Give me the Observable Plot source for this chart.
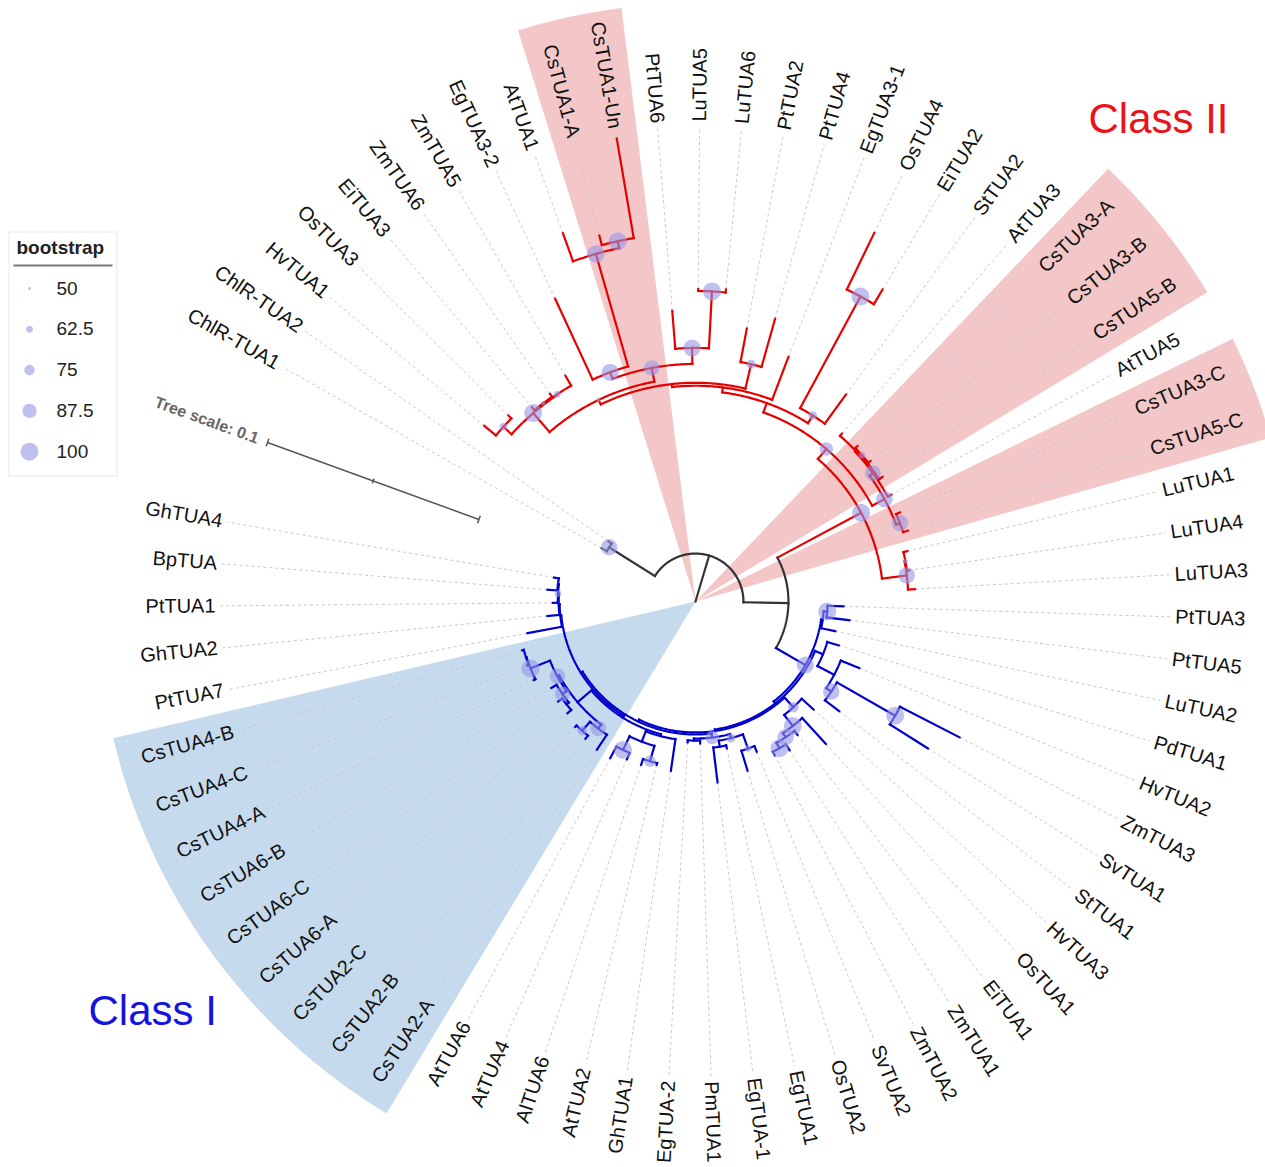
<!DOCTYPE html>
<html><head><meta charset="utf-8">
<script src="https://cdn.jsdelivr.net/npm/d3@7"></script>
<script src="https://cdn.jsdelivr.net/npm/@observablehq/plot@0.6"></script>
<style>body{margin:0;background:#fff} #chart svg{display:block}</style>
</head><body><div id="chart"></div>
<script>
// ---------- DATA ----------
// Tree (Newick, branch lengths in substitutions/site), leaves in clockwise order
const newick = `(
(ChlR-TUA1:0.0027,ChlR-TUA2:0.0018)ChlR:0.0240,
(((((((((HvTUA1:0.0067,OsTUA3:0.0018)HO:0.0049,((EiTUA3:0.0016,ZmTUA6:0.0016)EZ:0.0004,ZmTUA5:0.0051)M2:0.0002)M1:0.0111,
((EgTUA3-2:0.0396,(AtTUA1:0.0133,(CsTUA1-A:0.0044,CsTUA1-Un:0.0449)CS:0.0031)CC:0.0520)K:0.0031,(PtTUA6:0.0169,(LuTUA5:0.0009,LuTUA6:0.0013)LL2:0.0253)PL:0.0071)J:0.0062
)G:0.0022,(PtTUA2:0.0151,PtTUA4:0.0222)PP2:0.0111)F:0.0013,EgTUA3-1:0.0204)La:0.0022,
((OsTUA4:0.0280,EiTUA2:0.0076)OE:0.0564,StTUA2:0.0160)N1:0.0040)L:0.0044,
(((AtTUA3:0.0013,((CsTUA3-A:0.0013,CsTUA3-B:0.0013)Z3:0.0004,CsTUA5-B:0.0018)Z2:0.0004)Z1:0.0004,AtTUA5:0.0018)Z:0.0018,
(CsTUA3-C:0.0018,CsTUA5-C:0.0022)QC:0.0018)P:0.0062)B1a:0.0058,
((LuTUA1:0.0018,LuTUA4:0.0009)LL1:0.0004,LuTUA3:0.0031)B1b:0.0111)B1:0.0422,
(((PtTUA3:0.0071,PtTUA5:0.0102)PP:0.0016,LuTUA2:0.0064)A1:0.0007,
((PdTUA1:0.0053,(HvTUA2:0.0089,((ZmTUA3:0.0298,SvTUA1:0.0200)G1c:0.0298,StTUA1:0.0080)G1b:0.0027)G1:0.0084)Y1:0.0038,
((HvTUA3:0.0071,(OsTUA1:0.0156,(EiTUA1:0.0022,(ZmTUA1:0.0031,ZmTUA2:0.0018)Y3d:0.0027)Y3c:0.0022)Y3b:0.0062)Y3:0.0058,
((((SvTUA2:0.0027,OsTUA2:0.0093)Y5x:0.0067,(EgTUA1:0.0013,EgTUA-1:0.0156)Y5b:0.0027)Y5:0.0018,(PmTUA1:0.0013,EgTUA-2:0.0009)Y6a:0.0009)W1:0.0018,
(((GhTUA1:0.0142,((AtTUA2:0.0009,AlTUA6:0.0027)W5a:0.0071,(AtTUA4:0.0031,AtTUA6:0.0058)W5b:0.0067)W5:0.0049)W4:0.0009,
((CsTUA2-A:0.0080,(CsTUA2-B:0.0018,CsTUA2-C:0.0009)Cs2bc:0.0053)Cs2:0.0022,(((CsTUA6-A:0.0022,CsTUA6-C:0.0022)Cs6ac:0.0013,CsTUA6-B:0.0027)Cs6:0.0022,(CsTUA4-A:0.0009,(CsTUA4-C:0.0007,CsTUA4-B:0.0007)Cs4cb:0.0002)Cs4:0.0093)Cs64:0.0009)Cs:0.0080)W3:0.0009,
(PtTUA7:0.0156,(GhTUA2:0.0053,(PtTUA1:0.0022,(BpTUA:0.0044,GhTUA4:0.0022)LG4:0.0004)LG3:0.0004)LG2:0.0004)LG:0.0004)W2:0.0009)W:0.0009)Y2:0.0007)Y:0.0011)B2:0.0151)B:0.0200
)root:0.0213;`;

// bootstrap support of internal nodes
const bootNodes  = ["ChlR","B1","B1a","P","Z","Z3","QC","B1b","LL1","N1","OE","PP2","LL2","PL","J","K","CC","CS","M1","M2","EZ","HO","G",
                    "PP","B2","G1b","G1c","Y3","Y3b","Y3c","Y3d","Y5x","W1","W5a","W5b","Cs2","Cs2bc","Cs6","Cs64","Cs4","LG3","Y5"];
const bootValues = [95,100,85,95,93,62,95,95,55,68,100,70,100,97,92,97,98,100,100,62,55,66,53,
                    100,97,95,100,75,100,95,100,62,85,78,100,92,72,90,92,100,62,70];

// clade branch colours
const cladeNodes  = ["B1", "B2"];
const cladeColors = ["#e60000", "#0000cc"];

// highlighted ranges (first leaf, last leaf, colour)
const wedgeFirst  = ["CsTUA1-A", "CsTUA3-A", "CsTUA3-C", "CsTUA2-A"];
const wedgeLast   = ["CsTUA1-Un", "CsTUA5-B", "CsTUA5-C", "CsTUA4-B"];
const wedgeColors = ["#f3c7c7", "#f3c7c7", "#f3c7c7", "#c6daee"];

// class labels
const classNames  = ["Class II", "Class I"];
const classColors = ["#e8141a", "#1414e0"];

// legend
const legendTitle  = "bootstrap";
const legendValues = [50, 62.5, 75, 87.5, 100];
const treeScaleValue = 0.1;

// ---------- LAYOUT ----------
const W = 1265, H = 1167, CX = 695, CY = 601, K = 2250;   // px per tree unit
const START = 299.6, STEP = 5.075;                          // leaf angles (deg, clockwise from top)
const LABEL_R = 480 / K, DASH_R = 475 / K, WEDGE_R = 598 / K;
const FONT = "Liberation Sans, Arial, Helvetica, sans-serif";
const BLACK = "#333333";

function parseNewick(s) {
  let i = 0;
  function node() {
    const n = {children: []};
    if (s[i] === "(") {
      i++;
      n.children.push(node());
      while (s[i] === ",") { i++; n.children.push(node()); }
      i++;
    }
    let name = "";
    while (i < s.length && !",():;".includes(s[i])) name += s[i++];
    n.name = name;
    n.len = 0;
    if (s[i] === ":") {
      i++;
      let num = "";
      while (i < s.length && !",();".includes(s[i])) num += s[i++];
      n.len = +num;
    }
    return n;
  }
  return node();
}

const root = parseNewick(newick.replace(/\s+/g, ""));
const leaves = [], nodes = [];
(function walk(n, d, parent) {
  n.depth = d + n.len; n.parent = parent; nodes.push(n);
  if (!n.children.length) { n.angle = START + leaves.length * STEP; leaves.push(n); }
  else {
    n.children.forEach(c => walk(c, n.depth, n));
    n.angle = (n.children[0].angle + n.children[n.children.length - 1].angle) / 2;
  }
})(root, 0, null);

(function color(n, c) {
  const k = cladeNodes.indexOf(n.name);
  if (k >= 0) c = cladeColors[k];
  n.color = c;
  n.children.forEach(ch => color(ch, c));
})(root, BLACK);

const rad = a => a * Math.PI / 180;
const pol = (r, a) => [r * Math.sin(rad(a)), r * Math.cos(rad(a))];
const ux = p => (p - CX) / K, uy = p => (CY - p) / K;

// branch segments
const segs = [];
let sid = 0;
function addPath(pts, color) { const id = sid++; pts.forEach(([x, y]) => segs.push({id, x, y, color})); }
nodes.forEach(n => {
  const r0 = n.parent ? n.parent.depth : 0;
  addPath([pol(r0, n.angle), pol(n.depth, n.angle)], n.color);
  if (n.children.length) {
    const a0 = n.children[0].angle, a1 = n.children[n.children.length - 1].angle;
    const steps = Math.max(2, Math.ceil((a1 - a0) / 0.5));
    addPath(d3.range(steps + 1).map(k => pol(n.depth, a0 + (a1 - a0) * k / steps)), n.color);
  }
});

// wedges
const byName = new Map(nodes.map(n => [n.name, n]));
const wedgeMarks = wedgeFirst.map((f, i) => {
  const a0 = byName.get(f).angle - STEP / 2, a1 = byName.get(wedgeLast[i]).angle + STEP / 2;
  const pts = [{x: 0, y: 0}];
  for (let k = 0; k <= 60; k++) { const [x, y] = pol(WEDGE_R, a0 + (a1 - a0) * k / 60); pts.push({x, y}); }
  pts.push({x: 0, y: 0});
  return Plot.line(pts, {x: "x", y: "y", fill: wedgeColors[i], stroke: "none"});
});

// leaf dashes and labels
const leafData = leaves.map(n => {
  const a = ((n.angle % 360) + 360) % 360;
  const right = a < 180;
  const [x1, y1] = pol(n.depth, n.angle), [x2, y2] = pol(DASH_R, n.angle), [lx, ly] = pol(LABEL_R, n.angle);
  return {name: n.name, x1, y1, x2, y2, lx, ly, rot: right ? a - 90 : a - 270, right};
});

// bootstrap dots
const bootData = bootNodes.map((name, i) => {
  const n = byName.get(name);
  const [x, y] = pol(n.depth, n.angle);
  return {x, y, v: bootValues[i]};
});

// legend
const legendRows = legendValues.map((v, i) => ({v, x: ux(29), tx: ux(56), y: uy(288 + i * 40.8)}));

// tree scale bar
const sAng = rad(20);
const dir = [Math.cos(sAng), -Math.sin(sAng)], nrm = [Math.sin(sAng), Math.cos(sAng)];
const s0 = [ux(267), uy(442)];
const s1 = [s0[0] + treeScaleValue * dir[0], s0[1] + treeScaleValue * dir[1]];
const ticks = [0, 0.5, 1].map(t => {
  const h = (t === 0.5 ? 2.5 : 4) / K;
  const cx = s0[0] + t * treeScaleValue * dir[0], cy = s0[1] + t * treeScaleValue * dir[1];
  return {x1: cx - h * nrm[0], y1: cy - h * nrm[1], x2: cx + h * nrm[0], y2: cy + h * nrm[1]};
});
const scaleLabel = [{x: s0[0] - 10 / K * dir[0], y: s0[1] - 10 / K * dir[1], t: "Tree scale: " + treeScaleValue}];

const classData = [
  {t: classNames[0], x: ux(1088), y: uy(119), c: classColors[0]},
  {t: classNames[1], x: ux(88), y: uy(1011), c: classColors[1]}
];

const chart = Plot.plot({
  width: W, height: H,
  marginTop: 0, marginRight: 0, marginBottom: 0, marginLeft: 0,
  x: {domain: [-CX / K, (W - CX) / K], range: [0, W], axis: null},
  y: {domain: [-(H - CY) / K, CY / K], range: [H, 0], axis: null},
  r: {type: "linear", domain: [50, 100], range: [1.5, 9]},
  color: {type: "identity"},
  style: {background: "white", fontFamily: FONT, overflow: "hidden"},
  marks: [
    ...wedgeMarks,
    Plot.link(leafData, {x1: "x1", y1: "y1", x2: "x2", y2: "y2", stroke: "#c8c8c8", strokeWidth: 1, strokeDasharray: "3,3"}),
    Plot.line(segs, {x: "x", y: "y", z: "id", stroke: "color", strokeWidth: 2.2, strokeLinecap: "square", strokeLinejoin: "miter"}),
    Plot.dot(bootData, {x: "x", y: "y", r: "v", fill: "#9696e6", fillOpacity: 0.6, stroke: "none"}),
    Plot.text(leafData.filter(d => d.right), {x: "lx", y: "ly", text: "name", rotate: "rot", textAnchor: "start", fontSize: 20, fill: "#111", fontFamily: FONT}),
    Plot.text(leafData.filter(d => !d.right), {x: "lx", y: "ly", text: "name", rotate: "rot", textAnchor: "end", fontSize: 20, fill: "#111", fontFamily: FONT}),
    // class labels
    Plot.text(classData, {x: "x", y: "y", text: "t", fill: "c", textAnchor: "start", fontSize: 42, fontFamily: FONT}),
    // tree scale
    Plot.link([{x1: s0[0], y1: s0[1], x2: s1[0], y2: s1[1]}], {x1: "x1", y1: "y1", x2: "x2", y2: "y2", stroke: "#555", strokeWidth: 1.5}),
    Plot.link(ticks, {x1: "x1", y1: "y1", x2: "x2", y2: "y2", stroke: "#555", strokeWidth: 1.5}),
    Plot.text(scaleLabel, {x: "x", y: "y", text: "t", rotate: 20, textAnchor: "end", fontSize: 16, fontWeight: "bold", fill: "#666", fontFamily: FONT}),
    // legend
    Plot.rect([{x1: ux(9), x2: ux(117), y1: uy(232), y2: uy(476)}], {x1: "x1", x2: "x2", y1: "y1", y2: "y2", fill: "white", stroke: "#e8e8e8"}),
    Plot.text([{x: ux(16), y: uy(247), t: legendTitle}], {x: "x", y: "y", text: "t", textAnchor: "start", fontSize: 19, fontWeight: "bold", fill: "#222", fontFamily: FONT}),
    Plot.link([{x1: ux(13), x2: ux(112), y1: uy(265), y2: uy(265)}], {x1: "x1", y1: "y1", x2: "x2", y2: "y2", stroke: "#777", strokeWidth: 2}),
    Plot.dot(legendRows, {x: "x", y: "y", r: "v", fill: "#9696e6", fillOpacity: 0.6, stroke: "none"}),
    Plot.text(legendRows, {x: "tx", y: "y", text: d => String(d.v), textAnchor: "start", fontSize: 19, fill: "#222", fontFamily: FONT})
  ]
});
document.getElementById("chart").append(chart);
</script>
</body></html>
